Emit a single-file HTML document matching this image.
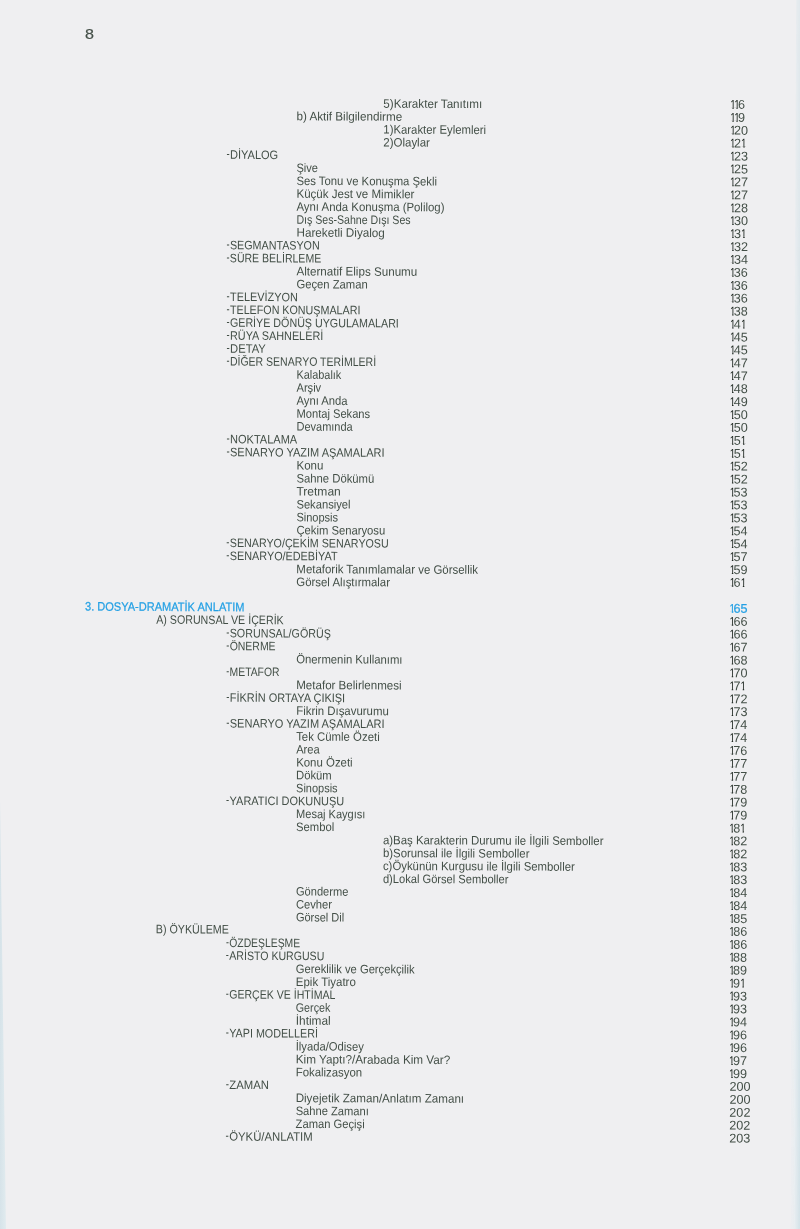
<!DOCTYPE html>
<html lang="tr"><head><meta charset="utf-8"><title>İçindekiler</title>
<style>
html,body{margin:0;padding:0}
body{width:800px;height:1229px;position:relative;overflow:hidden;background:#efeff1;
 font-family:"Liberation Sans",sans-serif;font-size:12.2px;line-height:13px;color:#434f47}
.r{position:absolute;white-space:nowrap;transform-origin:0 10px;height:13px}
.b,.n.b i{color:#24a0e4;-webkit-text-stroke:.25px #24a0e4}
.r b{display:inline-block;font-weight:normal;position:relative;top:-1.4px;width:3.95px;transform:scaleX(.86);transform-origin:0 50%}
.wrap{position:absolute;left:0;top:0;width:800px;height:1229px;will-change:transform;opacity:.999}
.n{font-size:12.6px;transform:rotate(0.215deg) scaleX(1.0)}
.n i{display:inline-block;font-style:normal;color:#222b25;clip-path:polygon(-1px -3px,9px -3px,9px 8.6px,4.7px 8.6px,4.7px 13px,2.8px 13px,2.8px 8.6px,-1px 8.6px);width:3.9px;transform:scaleX(0.78);transform-origin:0 50%}
.pg{position:absolute;left:84.8px;top:25.7px;-webkit-text-stroke:.2px;font-size:14.6px;line-height:16px;color:#434f47;transform:scaleX(1.1);transform-origin:0 50%}
.edge-r{position:absolute;right:0;top:0;width:10px;height:1229px;
 background:linear-gradient(to right,rgba(226,236,241,0),rgba(226,236,241,.5) 45%,rgba(210,225,231,1));
 clip-path:polygon(62% 0,100% 0,100% 100%,0 100%);
 -webkit-mask-image:linear-gradient(to bottom,rgba(0,0,0,.5),rgba(0,0,0,1));mask-image:linear-gradient(to bottom,rgba(0,0,0,.5),rgba(0,0,0,1))}
.edge-l{position:absolute;left:0;top:800px;width:6px;height:429px;
 background:linear-gradient(to right,#d6e3e9,#e1ebef);clip-path:polygon(0 0,100% 100%,0 100%)}
</style></head><body>
<div class="edge-r"></div><div class="edge-l"></div>
<div class="wrap">
<div class="pg">8</div>
<div class="r" style="left:383px;top:97px;transform:translate(0.35px,0.71px) rotate(0.215deg) scaleX(0.9565)">5)Karakter Tanıtımı</div>
<div class="r n" style="left:730px;top:98px;transform:translate(0.15px,0.75px) rotate(0.215deg) scaleX(1.0)"><i>1</i><i>1</i>6</div>
<div class="r" style="left:296px;top:110px;transform:translate(0.40px,0.31px) rotate(0.215deg) scaleX(0.9577)">b) Aktif Bilgilendirme</div>
<div class="r n" style="left:730px;top:111px;transform:translate(0.14px,0.67px) rotate(0.215deg) scaleX(1.0)"><i>1</i><i>1</i>9</div>
<div class="r" style="left:383px;top:123px;transform:translate(0.36px,0.56px) rotate(0.215deg) scaleX(0.9303)">1)Karakter Eylemleri</div>
<div class="r n" style="left:730px;top:124px;transform:translate(0.13px,0.59px) rotate(0.215deg) scaleX(1.0)"><i>1</i>20</div>
<div class="r" style="left:383px;top:136px;transform:translate(0.36px,0.48px) rotate(0.215deg) scaleX(0.9404)">2)Olaylar</div>
<div class="r n" style="left:730px;top:137px;transform:translate(0.11px,0.52px) rotate(0.215deg) scaleX(1.0)"><i>1</i>2<i>1</i></div>
<div class="r" style="left:226px;top:148px;transform:translate(0.42px,0.81px) rotate(0.215deg) scaleX(0.9047)"><b>-</b>DİYALOG</div>
<div class="r n" style="left:730px;top:150px;transform:translate(0.10px,0.44px) rotate(0.215deg) scaleX(1.0)"><i>1</i>23</div>
<div class="r" style="left:296px;top:161px;transform:translate(0.42px,1.00px) rotate(0.215deg) scaleX(0.9060)">Şive</div>
<div class="r n" style="left:730px;top:163px;transform:translate(0.08px,0.36px) rotate(0.215deg) scaleX(1.0)"><i>1</i>25</div>
<div class="r" style="left:296px;top:174px;transform:translate(0.42px,0.92px) rotate(0.215deg) scaleX(0.9281)">Ses Tonu ve Konuşma Şekli</div>
<div class="r n" style="left:730px;top:176px;transform:translate(0.07px,0.28px) rotate(0.215deg) scaleX(1.0)"><i>1</i>27</div>
<div class="r" style="left:296px;top:187px;transform:translate(0.43px,0.84px) rotate(0.215deg) scaleX(0.9472)">Küçük Jest ve Mimikler</div>
<div class="r n" style="left:730px;top:189px;transform:translate(0.06px,0.20px) rotate(0.215deg) scaleX(1.0)"><i>1</i>27</div>
<div class="r" style="left:296px;top:200px;transform:translate(0.43px,0.76px) rotate(0.215deg) scaleX(0.9349)">Aynı Anda Konuşma (Polilog)</div>
<div class="r n" style="left:730px;top:202px;transform:translate(0.04px,0.13px) rotate(0.215deg) scaleX(1.0)"><i>1</i>28</div>
<div class="r" style="left:296px;top:213px;transform:translate(0.44px,0.68px) rotate(0.215deg) scaleX(0.8686)">Dış Ses-Sahne Dışı Ses</div>
<div class="r n" style="left:730px;top:215px;transform:translate(0.03px,0.05px) rotate(0.215deg) scaleX(1.0)"><i>1</i>30</div>
<div class="r" style="left:296px;top:226px;transform:translate(0.44px,0.61px) rotate(0.215deg) scaleX(0.9597)">Hareketli Diyalog</div>
<div class="r n" style="left:730px;top:227px;transform:translate(0.01px,0.97px) rotate(0.215deg) scaleX(1.0)"><i>1</i>3<i>1</i></div>
<div class="r" style="left:226px;top:239px;transform:translate(0.44px,0.27px) rotate(0.215deg) scaleX(0.8800)"><b>-</b>SEGMANTASYON</div>
<div class="r n" style="left:730px;top:240px;transform:translate(0.00px,0.89px) rotate(0.215deg) scaleX(1.0)"><i>1</i>32</div>
<div class="r" style="left:226px;top:252px;transform:translate(0.45px,0.19px) rotate(0.215deg) scaleX(0.8646)"><b>-</b>SÜRE BELİRLEME</div>
<div class="r n" style="left:729px;top:253px;transform:translate(0.99px,0.81px) rotate(0.215deg) scaleX(1.0)"><i>1</i>34</div>
<div class="r" style="left:296px;top:265px;transform:translate(0.45px,0.37px) rotate(0.215deg) scaleX(0.9535)">Alternatif Elips Sunumu</div>
<div class="r n" style="left:729px;top:266px;transform:translate(0.97px,0.74px) rotate(0.215deg) scaleX(1.0)"><i>1</i>36</div>
<div class="r" style="left:296px;top:278px;transform:translate(0.46px,0.29px) rotate(0.215deg) scaleX(0.9228)">Geçen Zaman</div>
<div class="r n" style="left:729px;top:279px;transform:translate(0.96px,0.66px) rotate(0.215deg) scaleX(1.0)"><i>1</i>36</div>
<div class="r" style="left:226px;top:290px;transform:translate(0.46px,0.95px) rotate(0.215deg) scaleX(0.8942)"><b>-</b>TELEVİZYON</div>
<div class="r n" style="left:729px;top:292px;transform:translate(0.94px,0.58px) rotate(0.215deg) scaleX(1.0)"><i>1</i>36</div>
<div class="r" style="left:226px;top:303px;transform:translate(0.46px,0.88px) rotate(0.215deg) scaleX(0.8799)"><b>-</b>TELEFON KONUŞMALARI</div>
<div class="r n" style="left:729px;top:305px;transform:translate(0.93px,0.50px) rotate(0.215deg) scaleX(1.0)"><i>1</i>38</div>
<div class="r" style="left:226px;top:316px;transform:translate(0.47px,0.80px) rotate(0.215deg) scaleX(0.8782)"><b>-</b>GERİYE DÖNÜŞ UYGULAMALARI</div>
<div class="r n" style="left:729px;top:318px;transform:translate(0.92px,0.42px) rotate(0.215deg) scaleX(1.0)"><i>1</i>4<i>1</i></div>
<div class="r" style="left:226px;top:329px;transform:translate(0.47px,0.72px) rotate(0.215deg) scaleX(0.8903)"><b>-</b>RÜYA SAHNELERİ</div>
<div class="r n" style="left:729px;top:331px;transform:translate(0.90px,0.35px) rotate(0.215deg) scaleX(1.0)"><i>1</i>45</div>
<div class="r" style="left:226px;top:342px;transform:translate(0.48px,0.64px) rotate(0.215deg) scaleX(0.9176)"><b>-</b>DETAY</div>
<div class="r n" style="left:729px;top:344px;transform:translate(0.89px,0.27px) rotate(0.215deg) scaleX(1.0)"><i>1</i>45</div>
<div class="r" style="left:226px;top:355px;transform:translate(0.48px,0.56px) rotate(0.215deg) scaleX(0.8627)"><b>-</b>DİĞER SENARYO TERİMLERİ</div>
<div class="r n" style="left:729px;top:357px;transform:translate(0.87px,0.19px) rotate(0.215deg) scaleX(1.0)"><i>1</i>47</div>
<div class="r" style="left:296px;top:368px;transform:translate(0.48px,0.79px) rotate(0.215deg) scaleX(0.8937)">Kalabalık</div>
<div class="r n" style="left:729px;top:370px;transform:translate(0.86px,0.11px) rotate(0.215deg) scaleX(1.0)"><i>1</i>47</div>
<div class="r" style="left:296px;top:381px;transform:translate(0.49px,0.75px) rotate(0.215deg) scaleX(0.9115)">Arşiv</div>
<div class="r n" style="left:729px;top:383px;transform:translate(0.85px,0.03px) rotate(0.215deg) scaleX(1.0)"><i>1</i>48</div>
<div class="r" style="left:296px;top:394px;transform:translate(0.49px,0.71px) rotate(0.215deg) scaleX(0.9230)">Aynı Anda</div>
<div class="r n" style="left:729px;top:395px;transform:translate(0.83px,0.96px) rotate(0.215deg) scaleX(1.0)"><i>1</i>49</div>
<div class="r" style="left:296px;top:407px;transform:translate(0.50px,0.66px) rotate(0.215deg) scaleX(0.9128)">Montaj Sekans</div>
<div class="r n" style="left:729px;top:408px;transform:translate(0.82px,0.88px) rotate(0.215deg) scaleX(1.0)"><i>1</i>50</div>
<div class="r" style="left:296px;top:420px;transform:translate(0.50px,0.62px) rotate(0.215deg) scaleX(0.9017)">Devamında</div>
<div class="r n" style="left:729px;top:421px;transform:translate(0.80px,0.80px) rotate(0.215deg) scaleX(1.0)"><i>1</i>50</div>
<div class="r" style="left:226px;top:433px;transform:translate(0.49px,0.32px) rotate(0.215deg) scaleX(0.9043)"><b>-</b>NOKTALAMA</div>
<div class="r n" style="left:729px;top:434px;transform:translate(0.79px,0.72px) rotate(0.215deg) scaleX(1.0)"><i>1</i>5<i>1</i></div>
<div class="r" style="left:226px;top:446px;transform:translate(0.47px,0.28px) rotate(0.215deg) scaleX(0.9017)"><b>-</b>SENARYO YAZIM AŞAMALARI</div>
<div class="r n" style="left:729px;top:447px;transform:translate(0.78px,0.64px) rotate(0.215deg) scaleX(1.0)"><i>1</i>5<i>1</i></div>
<div class="r" style="left:296px;top:459px;transform:translate(0.46px,0.50px) rotate(0.215deg) scaleX(0.9443)">Konu</div>
<div class="r n" style="left:729px;top:460px;transform:translate(0.76px,0.57px) rotate(0.215deg) scaleX(1.0)"><i>1</i>52</div>
<div class="r" style="left:296px;top:472px;transform:translate(0.44px,0.46px) rotate(0.215deg) scaleX(0.9270)">Sahne Dökümü</div>
<div class="r n" style="left:729px;top:473px;transform:translate(0.75px,0.49px) rotate(0.215deg) scaleX(1.0)"><i>1</i>52</div>
<div class="r" style="left:296px;top:485px;transform:translate(0.43px,0.42px) rotate(0.215deg) scaleX(0.9870)">Tretman</div>
<div class="r n" style="left:729px;top:486px;transform:translate(0.73px,0.41px) rotate(0.215deg) scaleX(1.0)"><i>1</i>53</div>
<div class="r" style="left:296px;top:498px;transform:translate(0.42px,0.38px) rotate(0.215deg) scaleX(0.9185)">Sekansiyel</div>
<div class="r n" style="left:729px;top:499px;transform:translate(0.72px,0.33px) rotate(0.215deg) scaleX(1.0)"><i>1</i>53</div>
<div class="r" style="left:296px;top:511px;transform:translate(0.40px,0.34px) rotate(0.215deg) scaleX(0.9048)">Sinopsis</div>
<div class="r n" style="left:729px;top:512px;transform:translate(0.71px,0.25px) rotate(0.215deg) scaleX(1.0)"><i>1</i>53</div>
<div class="r" style="left:296px;top:524px;transform:translate(0.39px,0.30px) rotate(0.215deg) scaleX(0.9235)">Çekim Senaryosu</div>
<div class="r n" style="left:729px;top:525px;transform:translate(0.69px,0.18px) rotate(0.215deg) scaleX(1.0)"><i>1</i>54</div>
<div class="r" style="left:226px;top:536px;transform:translate(0.37px,1.00px) rotate(0.215deg) scaleX(0.8774)"><b>-</b>SENARYO/ÇEKİM SENARYOSU</div>
<div class="r n" style="left:729px;top:538px;transform:translate(0.68px,0.10px) rotate(0.215deg) scaleX(1.0)"><i>1</i>54</div>
<div class="r" style="left:226px;top:549px;transform:translate(0.36px,0.96px) rotate(0.215deg) scaleX(0.8879)"><b>-</b>SENARYO/EDEBİYAT</div>
<div class="r n" style="left:729px;top:551px;transform:translate(0.66px,0.02px) rotate(0.215deg) scaleX(1.0)"><i>1</i>57</div>
<div class="r" style="left:296px;top:563px;transform:translate(0.35px,0.18px) rotate(0.215deg) scaleX(0.9386)">Metaforik Tanımlamalar ve Görsellik</div>
<div class="r n" style="left:729px;top:563px;transform:translate(0.65px,0.94px) rotate(0.215deg) scaleX(1.0)"><i>1</i>59</div>
<div class="r" style="left:296px;top:576px;transform:translate(0.33px,0.06px) rotate(0.215deg) scaleX(0.9338)">Görsel Alıştırmalar</div>
<div class="r n" style="left:729px;top:576px;transform:translate(0.64px,0.86px) rotate(0.215deg) scaleX(1.0)"><i>1</i>6<i>1</i></div>
<div class="r b" style="left:85px;top:600px;transform:translate(0.00px,0.57px) rotate(0.215deg) scaleX(0.9055)">3. DOSYA-DRAMATİK ANLATIM</div>
<div class="r n b" style="left:729px;top:602px;transform:translate(0.61px,0.71px) rotate(0.215deg) scaleX(1.0)"><i>1</i>65</div>
<div class="r" style="left:156px;top:613px;transform:translate(0.19px,0.72px) rotate(0.215deg) scaleX(0.8745)">A) SORUNSAL VE İÇERİK</div>
<div class="r n" style="left:729px;top:615px;transform:translate(0.59px,0.63px) rotate(0.215deg) scaleX(1.0)"><i>1</i>66</div>
<div class="r" style="left:226px;top:627px;transform:translate(0.28px,0.31px) rotate(0.215deg) scaleX(0.8779)"><b>-</b>SORUNSAL/GÖRÜŞ</div>
<div class="r n" style="left:729px;top:628px;transform:translate(0.58px,0.55px) rotate(0.215deg) scaleX(1.0)"><i>1</i>66</div>
<div class="r" style="left:226px;top:640px;transform:translate(0.26px,0.19px) rotate(0.215deg) scaleX(0.8592)"><b>-</b>ÖNERME</div>
<div class="r n" style="left:729px;top:641px;transform:translate(0.57px,0.47px) rotate(0.215deg) scaleX(1.0)"><i>1</i>67</div>
<div class="r" style="left:296px;top:653px;transform:translate(0.25px,0.33px) rotate(0.215deg) scaleX(0.9278)">Önermenin Kullanımı</div>
<div class="r n" style="left:729px;top:654px;transform:translate(0.55px,0.40px) rotate(0.215deg) scaleX(1.0)"><i>1</i>68</div>
<div class="r" style="left:226px;top:665px;transform:translate(0.23px,0.95px) rotate(0.215deg) scaleX(0.8511)"><b>-</b>METAFOR</div>
<div class="r n" style="left:729px;top:667px;transform:translate(0.54px,0.32px) rotate(0.215deg) scaleX(1.0)"><i>1</i>70</div>
<div class="r" style="left:296px;top:679px;transform:translate(0.22px,0.09px) rotate(0.215deg) scaleX(0.9484)">Metafor Belirlenmesi</div>
<div class="r n" style="left:729px;top:680px;transform:translate(0.52px,0.24px) rotate(0.215deg) scaleX(1.0)"><i>1</i>7<i>1</i></div>
<div class="r" style="left:226px;top:691px;transform:translate(0.21px,0.71px) rotate(0.215deg) scaleX(0.8984)"><b>-</b>FİKRİN ORTAYA ÇIKIŞI</div>
<div class="r n" style="left:729px;top:693px;transform:translate(0.51px,0.16px) rotate(0.215deg) scaleX(1.0)"><i>1</i>72</div>
<div class="r" style="left:296px;top:704px;transform:translate(0.19px,0.85px) rotate(0.215deg) scaleX(0.9359)">Fikrin Dışavurumu</div>
<div class="r n" style="left:729px;top:706px;transform:translate(0.50px,0.08px) rotate(0.215deg) scaleX(1.0)"><i>1</i>73</div>
<div class="r" style="left:226px;top:717px;transform:translate(0.18px,0.46px) rotate(0.215deg) scaleX(0.9034)"><b>-</b>SENARYO YAZIM AŞAMALARI</div>
<div class="r n" style="left:729px;top:719px;transform:translate(0.48px,0.01px) rotate(0.215deg) scaleX(1.0)"><i>1</i>74</div>
<div class="r" style="left:296px;top:730px;transform:translate(0.16px,0.61px) rotate(0.215deg) scaleX(0.9340)">Tek Cümle Özeti</div>
<div class="r n" style="left:729px;top:731px;transform:translate(0.47px,0.93px) rotate(0.215deg) scaleX(1.0)"><i>1</i>74</div>
<div class="r" style="left:296px;top:743px;transform:translate(0.15px,0.49px) rotate(0.215deg) scaleX(0.9147)">Area</div>
<div class="r n" style="left:729px;top:744px;transform:translate(0.45px,0.85px) rotate(0.215deg) scaleX(1.0)"><i>1</i>76</div>
<div class="r" style="left:296px;top:756px;transform:translate(0.13px,0.40px) rotate(0.215deg) scaleX(0.9376)">Konu Özeti</div>
<div class="r n" style="left:729px;top:757px;transform:translate(0.44px,0.77px) rotate(0.215deg) scaleX(1.0)"><i>1</i>77</div>
<div class="r" style="left:296px;top:769px;transform:translate(0.11px,0.31px) rotate(0.215deg) scaleX(0.9229)">Döküm</div>
<div class="r n" style="left:729px;top:770px;transform:translate(0.43px,0.69px) rotate(0.215deg) scaleX(1.0)"><i>1</i>77</div>
<div class="r" style="left:296px;top:782px;transform:translate(0.10px,0.22px) rotate(0.215deg) scaleX(0.9006)">Sinopsis</div>
<div class="r n" style="left:729px;top:783px;transform:translate(0.41px,0.62px) rotate(0.215deg) scaleX(1.0)"><i>1</i>78</div>
<div class="r" style="left:226px;top:794px;transform:translate(0.08px,0.87px) rotate(0.215deg) scaleX(0.8986)"><b>-</b>YARATICI DOKUNUŞU</div>
<div class="r n" style="left:729px;top:796px;transform:translate(0.40px,0.54px) rotate(0.215deg) scaleX(1.0)"><i>1</i>79</div>
<div class="r" style="left:296px;top:808px;transform:translate(0.06px,0.05px) rotate(0.215deg) scaleX(0.9053)">Mesaj Kaygısı</div>
<div class="r n" style="left:729px;top:809px;transform:translate(0.38px,0.46px) rotate(0.215deg) scaleX(1.0)"><i>1</i>79</div>
<div class="r" style="left:296px;top:820px;transform:translate(0.04px,0.96px) rotate(0.215deg) scaleX(0.9223)">Sembol</div>
<div class="r n" style="left:729px;top:822px;transform:translate(0.37px,0.38px) rotate(0.215deg) scaleX(1.0)"><i>1</i>8<i>1</i></div>
<div class="r" style="left:382px;top:834px;transform:translate(0.97px,0.20px) rotate(0.215deg) scaleX(0.9354)">a)Baş Karakterin Durumu ile İlgili Semboller</div>
<div class="r n" style="left:729px;top:835px;transform:translate(0.36px,0.30px) rotate(0.215deg) scaleX(1.0)"><i>1</i>82</div>
<div class="r" style="left:382px;top:847px;transform:translate(0.95px,0.11px) rotate(0.215deg) scaleX(0.9322)">b)Sorunsal ile İlgili Semboller</div>
<div class="r n" style="left:729px;top:848px;transform:translate(0.34px,0.23px) rotate(0.215deg) scaleX(1.0)"><i>1</i>82</div>
<div class="r" style="left:382px;top:860px;transform:translate(0.94px,0.02px) rotate(0.215deg) scaleX(0.9315)">c)Öykünün Kurgusu ile İlgili Semboller</div>
<div class="r n" style="left:729px;top:861px;transform:translate(0.33px,0.15px) rotate(0.215deg) scaleX(1.0)"><i>1</i>83</div>
<div class="r" style="left:382px;top:872px;transform:translate(0.92px,0.93px) rotate(0.215deg) scaleX(0.9129)">d)Lokal Görsel Semboller</div>
<div class="r n" style="left:729px;top:874px;transform:translate(0.31px,0.07px) rotate(0.215deg) scaleX(1.0)"><i>1</i>83</div>
<div class="r" style="left:295px;top:885px;transform:translate(0.95px,0.52px) rotate(0.215deg) scaleX(0.9092)">Gönderme</div>
<div class="r n" style="left:729px;top:886px;transform:translate(0.30px,0.99px) rotate(0.215deg) scaleX(1.0)"><i>1</i>84</div>
<div class="r" style="left:295px;top:898px;transform:translate(0.93px,0.43px) rotate(0.215deg) scaleX(0.9195)">Cevher</div>
<div class="r n" style="left:729px;top:899px;transform:translate(0.29px,0.91px) rotate(0.215deg) scaleX(1.0)"><i>1</i>84</div>
<div class="r" style="left:295px;top:911px;transform:translate(0.91px,0.34px) rotate(0.215deg) scaleX(0.9014)">Görsel Dil</div>
<div class="r n" style="left:729px;top:912px;transform:translate(0.27px,0.84px) rotate(0.215deg) scaleX(1.0)"><i>1</i>85</div>
<div class="r" style="left:155px;top:923px;transform:translate(0.79px,0.28px) rotate(0.215deg) scaleX(0.8766)">B) ÖYKÜLEME</div>
<div class="r n" style="left:729px;top:925px;transform:translate(0.26px,0.76px) rotate(0.215deg) scaleX(1.0)"><i>1</i>86</div>
<div class="r" style="left:225px;top:936px;transform:translate(0.88px,0.90px) rotate(0.215deg) scaleX(0.8509)"><b>-</b>ÖZDEŞLEŞME</div>
<div class="r n" style="left:729px;top:938px;transform:translate(0.24px,0.68px) rotate(0.215deg) scaleX(1.0)"><i>1</i>86</div>
<div class="r" style="left:225px;top:949px;transform:translate(0.86px,0.81px) rotate(0.215deg) scaleX(0.8679)"><b>-</b>ARİSTO KURGUSU</div>
<div class="r n" style="left:729px;top:951px;transform:translate(0.23px,0.60px) rotate(0.215deg) scaleX(1.0)"><i>1</i>88</div>
<div class="r" style="left:295px;top:962px;transform:translate(0.84px,0.99px) rotate(0.215deg) scaleX(0.9187)">Gereklilik ve Gerçekçilik</div>
<div class="r n" style="left:729px;top:964px;transform:translate(0.22px,0.52px) rotate(0.215deg) scaleX(1.0)"><i>1</i>89</div>
<div class="r" style="left:295px;top:975px;transform:translate(0.82px,0.90px) rotate(0.215deg) scaleX(0.9418)">Epik Tiyatro</div>
<div class="r n" style="left:729px;top:977px;transform:translate(0.20px,0.45px) rotate(0.215deg) scaleX(1.0)"><i>1</i>9<i>1</i></div>
<div class="r" style="left:225px;top:988px;transform:translate(0.80px,0.55px) rotate(0.215deg) scaleX(0.8663)"><b>-</b>GERÇEK VE İHTİMAL</div>
<div class="r n" style="left:729px;top:990px;transform:translate(0.19px,0.37px) rotate(0.215deg) scaleX(1.0)"><i>1</i>93</div>
<div class="r" style="left:295px;top:1001px;transform:translate(0.78px,0.72px) rotate(0.215deg) scaleX(0.8788)">Gerçek</div>
<div class="r n" style="left:729px;top:1003px;transform:translate(0.17px,0.29px) rotate(0.215deg) scaleX(1.0)"><i>1</i>93</div>
<div class="r" style="left:295px;top:1014px;transform:translate(0.76px,0.64px) rotate(0.215deg) scaleX(0.9729)">İhtimal</div>
<div class="r n" style="left:729px;top:1016px;transform:translate(0.16px,0.21px) rotate(0.215deg) scaleX(1.0)"><i>1</i>94</div>
<div class="r" style="left:225px;top:1027px;transform:translate(0.75px,0.29px) rotate(0.215deg) scaleX(0.8811)"><b>-</b>YAPI MODELLERİ</div>
<div class="r n" style="left:729px;top:1029px;transform:translate(0.15px,0.13px) rotate(0.215deg) scaleX(1.0)"><i>1</i>96</div>
<div class="r" style="left:295px;top:1040px;transform:translate(0.73px,0.46px) rotate(0.215deg) scaleX(0.9214)">İlyada/Odisey</div>
<div class="r n" style="left:729px;top:1042px;transform:translate(0.13px,0.06px) rotate(0.215deg) scaleX(1.0)"><i>1</i>96</div>
<div class="r" style="left:295px;top:1053px;transform:translate(0.71px,0.37px) rotate(0.215deg) scaleX(0.9627)">Kim Yaptı?/Arabada Kim Var?</div>
<div class="r n" style="left:729px;top:1054px;transform:translate(0.12px,0.98px) rotate(0.215deg) scaleX(1.0)"><i>1</i>97</div>
<div class="r" style="left:295px;top:1066px;transform:translate(0.69px,0.28px) rotate(0.215deg) scaleX(0.9341)">Fokalizasyon</div>
<div class="r n" style="left:729px;top:1067px;transform:translate(0.10px,0.90px) rotate(0.215deg) scaleX(1.0)"><i>1</i>99</div>
<div class="r" style="left:225px;top:1078px;transform:translate(0.67px,0.93px) rotate(0.215deg) scaleX(0.9263)"><b>-</b>ZAMAN</div>
<div class="r n" style="left:729px;top:1080px;transform:translate(0.40px,0.82px) rotate(0.215deg) scaleX(1.0)">200</div>
<div class="r" style="left:295px;top:1092px;transform:translate(0.66px,0.11px) rotate(0.215deg) scaleX(0.9527)">Diyejetik Zaman/Anlatım Zamanı</div>
<div class="r n" style="left:729px;top:1093px;transform:translate(0.39px,0.74px) rotate(0.215deg) scaleX(1.0)">200</div>
<div class="r" style="left:295px;top:1105px;transform:translate(0.64px,0.02px) rotate(0.215deg) scaleX(0.9158)">Sahne Zamanı</div>
<div class="r n" style="left:729px;top:1106px;transform:translate(0.37px,0.67px) rotate(0.215deg) scaleX(1.0)">202</div>
<div class="r" style="left:295px;top:1117px;transform:translate(0.62px,0.93px) rotate(0.215deg) scaleX(0.9182)">Zaman Geçişi</div>
<div class="r n" style="left:729px;top:1119px;transform:translate(0.36px,0.59px) rotate(0.215deg) scaleX(1.0)">202</div>
<div class="r" style="left:225px;top:1130px;transform:translate(0.60px,0.58px) rotate(0.215deg) scaleX(0.9281)"><b>-</b>ÖYKÜ/ANLATIM</div>
<div class="r n" style="left:729px;top:1132px;transform:translate(0.35px,0.51px) rotate(0.215deg) scaleX(1.0)">203</div>
</div>
</body></html>
